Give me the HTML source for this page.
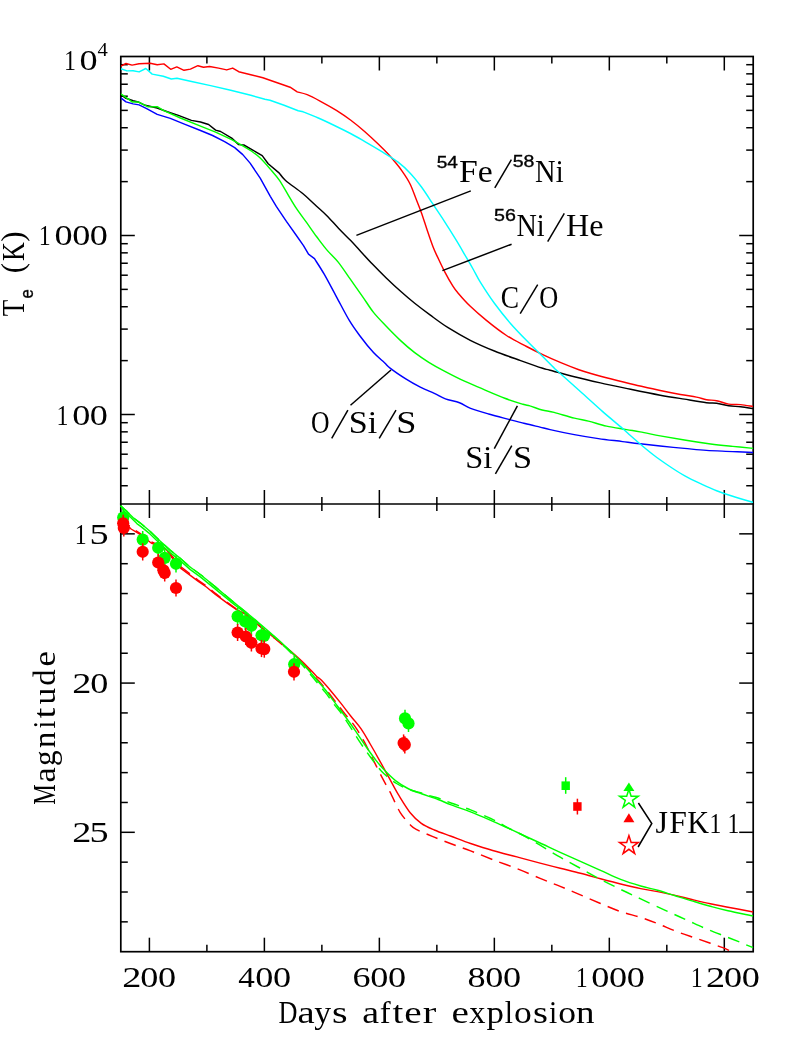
<!DOCTYPE html>
<html><head><meta charset="utf-8"><title>plot</title>
<style>html,body{margin:0;padding:0;background:#fff;width:795px;height:1059px;overflow:hidden}svg{display:block}text{font-kerning:none}</style>
</head><body>
<svg width="795" height="1059" viewBox="0 0 795 1059">
<rect x="0" y="0" width="795" height="1059" fill="#fff"/>
<clipPath id="ct"><rect x="120.8" y="56.5" width="632.4000000000001" height="447.5"/></clipPath>
<clipPath id="cb"><rect x="112.8" y="504.0" width="640.4000000000001" height="447.70000000000005"/></clipPath>
<rect x="120.8" y="56.5" width="632.4000000000001" height="895.2" stroke="#000" stroke-width="1.7" fill="none" stroke-linecap="square"/>
<line x1="120.80" y1="504.00" x2="753.20" y2="504.00" stroke="#000" stroke-width="1.7" fill="none" stroke-linecap="square"/>
<line x1="149.40" y1="56.50" x2="149.40" y2="70.50" stroke="#000" stroke-width="1.5" fill="none"/>
<line x1="149.40" y1="490.00" x2="149.40" y2="518.00" stroke="#000" stroke-width="1.5" fill="none"/>
<line x1="149.40" y1="937.70" x2="149.40" y2="951.70" stroke="#000" stroke-width="1.5" fill="none"/>
<line x1="206.89" y1="56.50" x2="206.89" y2="63.50" stroke="#000" stroke-width="1.5" fill="none"/>
<line x1="206.89" y1="497.00" x2="206.89" y2="511.00" stroke="#000" stroke-width="1.5" fill="none"/>
<line x1="206.89" y1="944.70" x2="206.89" y2="951.70" stroke="#000" stroke-width="1.5" fill="none"/>
<line x1="264.38" y1="56.50" x2="264.38" y2="70.50" stroke="#000" stroke-width="1.5" fill="none"/>
<line x1="264.38" y1="490.00" x2="264.38" y2="518.00" stroke="#000" stroke-width="1.5" fill="none"/>
<line x1="264.38" y1="937.70" x2="264.38" y2="951.70" stroke="#000" stroke-width="1.5" fill="none"/>
<line x1="321.87" y1="56.50" x2="321.87" y2="63.50" stroke="#000" stroke-width="1.5" fill="none"/>
<line x1="321.87" y1="497.00" x2="321.87" y2="511.00" stroke="#000" stroke-width="1.5" fill="none"/>
<line x1="321.87" y1="944.70" x2="321.87" y2="951.70" stroke="#000" stroke-width="1.5" fill="none"/>
<line x1="379.36" y1="56.50" x2="379.36" y2="70.50" stroke="#000" stroke-width="1.5" fill="none"/>
<line x1="379.36" y1="490.00" x2="379.36" y2="518.00" stroke="#000" stroke-width="1.5" fill="none"/>
<line x1="379.36" y1="937.70" x2="379.36" y2="951.70" stroke="#000" stroke-width="1.5" fill="none"/>
<line x1="436.85" y1="56.50" x2="436.85" y2="63.50" stroke="#000" stroke-width="1.5" fill="none"/>
<line x1="436.85" y1="497.00" x2="436.85" y2="511.00" stroke="#000" stroke-width="1.5" fill="none"/>
<line x1="436.85" y1="944.70" x2="436.85" y2="951.70" stroke="#000" stroke-width="1.5" fill="none"/>
<line x1="494.34" y1="56.50" x2="494.34" y2="70.50" stroke="#000" stroke-width="1.5" fill="none"/>
<line x1="494.34" y1="490.00" x2="494.34" y2="518.00" stroke="#000" stroke-width="1.5" fill="none"/>
<line x1="494.34" y1="937.70" x2="494.34" y2="951.70" stroke="#000" stroke-width="1.5" fill="none"/>
<line x1="551.83" y1="56.50" x2="551.83" y2="63.50" stroke="#000" stroke-width="1.5" fill="none"/>
<line x1="551.83" y1="497.00" x2="551.83" y2="511.00" stroke="#000" stroke-width="1.5" fill="none"/>
<line x1="551.83" y1="944.70" x2="551.83" y2="951.70" stroke="#000" stroke-width="1.5" fill="none"/>
<line x1="609.32" y1="56.50" x2="609.32" y2="70.50" stroke="#000" stroke-width="1.5" fill="none"/>
<line x1="609.32" y1="490.00" x2="609.32" y2="518.00" stroke="#000" stroke-width="1.5" fill="none"/>
<line x1="609.32" y1="937.70" x2="609.32" y2="951.70" stroke="#000" stroke-width="1.5" fill="none"/>
<line x1="666.81" y1="56.50" x2="666.81" y2="63.50" stroke="#000" stroke-width="1.5" fill="none"/>
<line x1="666.81" y1="497.00" x2="666.81" y2="511.00" stroke="#000" stroke-width="1.5" fill="none"/>
<line x1="666.81" y1="944.70" x2="666.81" y2="951.70" stroke="#000" stroke-width="1.5" fill="none"/>
<line x1="724.30" y1="56.50" x2="724.30" y2="70.50" stroke="#000" stroke-width="1.5" fill="none"/>
<line x1="724.30" y1="490.00" x2="724.30" y2="518.00" stroke="#000" stroke-width="1.5" fill="none"/>
<line x1="724.30" y1="937.70" x2="724.30" y2="951.70" stroke="#000" stroke-width="1.5" fill="none"/>
<line x1="120.80" y1="485.73" x2="127.80" y2="485.73" stroke="#000" stroke-width="1.5" fill="none"/>
<line x1="746.20" y1="485.73" x2="753.20" y2="485.73" stroke="#000" stroke-width="1.5" fill="none"/>
<line x1="120.80" y1="468.38" x2="127.80" y2="468.38" stroke="#000" stroke-width="1.5" fill="none"/>
<line x1="746.20" y1="468.38" x2="753.20" y2="468.38" stroke="#000" stroke-width="1.5" fill="none"/>
<line x1="120.80" y1="454.21" x2="127.80" y2="454.21" stroke="#000" stroke-width="1.5" fill="none"/>
<line x1="746.20" y1="454.21" x2="753.20" y2="454.21" stroke="#000" stroke-width="1.5" fill="none"/>
<line x1="120.80" y1="442.23" x2="127.80" y2="442.23" stroke="#000" stroke-width="1.5" fill="none"/>
<line x1="746.20" y1="442.23" x2="753.20" y2="442.23" stroke="#000" stroke-width="1.5" fill="none"/>
<line x1="120.80" y1="431.85" x2="127.80" y2="431.85" stroke="#000" stroke-width="1.5" fill="none"/>
<line x1="746.20" y1="431.85" x2="753.20" y2="431.85" stroke="#000" stroke-width="1.5" fill="none"/>
<line x1="120.80" y1="422.69" x2="127.80" y2="422.69" stroke="#000" stroke-width="1.5" fill="none"/>
<line x1="746.20" y1="422.69" x2="753.20" y2="422.69" stroke="#000" stroke-width="1.5" fill="none"/>
<line x1="120.80" y1="414.50" x2="134.80" y2="414.50" stroke="#000" stroke-width="1.5" fill="none"/>
<line x1="739.20" y1="414.50" x2="753.20" y2="414.50" stroke="#000" stroke-width="1.5" fill="none"/>
<line x1="120.80" y1="360.62" x2="127.80" y2="360.62" stroke="#000" stroke-width="1.5" fill="none"/>
<line x1="746.20" y1="360.62" x2="753.20" y2="360.62" stroke="#000" stroke-width="1.5" fill="none"/>
<line x1="120.80" y1="329.10" x2="127.80" y2="329.10" stroke="#000" stroke-width="1.5" fill="none"/>
<line x1="746.20" y1="329.10" x2="753.20" y2="329.10" stroke="#000" stroke-width="1.5" fill="none"/>
<line x1="120.80" y1="306.73" x2="127.80" y2="306.73" stroke="#000" stroke-width="1.5" fill="none"/>
<line x1="746.20" y1="306.73" x2="753.20" y2="306.73" stroke="#000" stroke-width="1.5" fill="none"/>
<line x1="120.80" y1="289.38" x2="127.80" y2="289.38" stroke="#000" stroke-width="1.5" fill="none"/>
<line x1="746.20" y1="289.38" x2="753.20" y2="289.38" stroke="#000" stroke-width="1.5" fill="none"/>
<line x1="120.80" y1="275.21" x2="127.80" y2="275.21" stroke="#000" stroke-width="1.5" fill="none"/>
<line x1="746.20" y1="275.21" x2="753.20" y2="275.21" stroke="#000" stroke-width="1.5" fill="none"/>
<line x1="120.80" y1="263.23" x2="127.80" y2="263.23" stroke="#000" stroke-width="1.5" fill="none"/>
<line x1="746.20" y1="263.23" x2="753.20" y2="263.23" stroke="#000" stroke-width="1.5" fill="none"/>
<line x1="120.80" y1="252.85" x2="127.80" y2="252.85" stroke="#000" stroke-width="1.5" fill="none"/>
<line x1="746.20" y1="252.85" x2="753.20" y2="252.85" stroke="#000" stroke-width="1.5" fill="none"/>
<line x1="120.80" y1="243.69" x2="127.80" y2="243.69" stroke="#000" stroke-width="1.5" fill="none"/>
<line x1="746.20" y1="243.69" x2="753.20" y2="243.69" stroke="#000" stroke-width="1.5" fill="none"/>
<line x1="120.80" y1="235.50" x2="134.80" y2="235.50" stroke="#000" stroke-width="1.5" fill="none"/>
<line x1="739.20" y1="235.50" x2="753.20" y2="235.50" stroke="#000" stroke-width="1.5" fill="none"/>
<line x1="120.80" y1="181.62" x2="127.80" y2="181.62" stroke="#000" stroke-width="1.5" fill="none"/>
<line x1="746.20" y1="181.62" x2="753.20" y2="181.62" stroke="#000" stroke-width="1.5" fill="none"/>
<line x1="120.80" y1="150.10" x2="127.80" y2="150.10" stroke="#000" stroke-width="1.5" fill="none"/>
<line x1="746.20" y1="150.10" x2="753.20" y2="150.10" stroke="#000" stroke-width="1.5" fill="none"/>
<line x1="120.80" y1="127.73" x2="127.80" y2="127.73" stroke="#000" stroke-width="1.5" fill="none"/>
<line x1="746.20" y1="127.73" x2="753.20" y2="127.73" stroke="#000" stroke-width="1.5" fill="none"/>
<line x1="120.80" y1="110.38" x2="127.80" y2="110.38" stroke="#000" stroke-width="1.5" fill="none"/>
<line x1="746.20" y1="110.38" x2="753.20" y2="110.38" stroke="#000" stroke-width="1.5" fill="none"/>
<line x1="120.80" y1="96.21" x2="127.80" y2="96.21" stroke="#000" stroke-width="1.5" fill="none"/>
<line x1="746.20" y1="96.21" x2="753.20" y2="96.21" stroke="#000" stroke-width="1.5" fill="none"/>
<line x1="120.80" y1="84.23" x2="127.80" y2="84.23" stroke="#000" stroke-width="1.5" fill="none"/>
<line x1="746.20" y1="84.23" x2="753.20" y2="84.23" stroke="#000" stroke-width="1.5" fill="none"/>
<line x1="120.80" y1="73.85" x2="127.80" y2="73.85" stroke="#000" stroke-width="1.5" fill="none"/>
<line x1="746.20" y1="73.85" x2="753.20" y2="73.85" stroke="#000" stroke-width="1.5" fill="none"/>
<line x1="120.80" y1="64.69" x2="127.80" y2="64.69" stroke="#000" stroke-width="1.5" fill="none"/>
<line x1="746.20" y1="64.69" x2="753.20" y2="64.69" stroke="#000" stroke-width="1.5" fill="none"/>
<line x1="120.80" y1="533.85" x2="134.80" y2="533.85" stroke="#000" stroke-width="1.5" fill="none"/>
<line x1="739.20" y1="533.85" x2="753.20" y2="533.85" stroke="#000" stroke-width="1.5" fill="none"/>
<line x1="120.80" y1="563.69" x2="127.80" y2="563.69" stroke="#000" stroke-width="1.5" fill="none"/>
<line x1="746.20" y1="563.69" x2="753.20" y2="563.69" stroke="#000" stroke-width="1.5" fill="none"/>
<line x1="120.80" y1="593.54" x2="127.80" y2="593.54" stroke="#000" stroke-width="1.5" fill="none"/>
<line x1="746.20" y1="593.54" x2="753.20" y2="593.54" stroke="#000" stroke-width="1.5" fill="none"/>
<line x1="120.80" y1="623.39" x2="127.80" y2="623.39" stroke="#000" stroke-width="1.5" fill="none"/>
<line x1="746.20" y1="623.39" x2="753.20" y2="623.39" stroke="#000" stroke-width="1.5" fill="none"/>
<line x1="120.80" y1="653.23" x2="127.80" y2="653.23" stroke="#000" stroke-width="1.5" fill="none"/>
<line x1="746.20" y1="653.23" x2="753.20" y2="653.23" stroke="#000" stroke-width="1.5" fill="none"/>
<line x1="120.80" y1="683.08" x2="134.80" y2="683.08" stroke="#000" stroke-width="1.5" fill="none"/>
<line x1="739.20" y1="683.08" x2="753.20" y2="683.08" stroke="#000" stroke-width="1.5" fill="none"/>
<line x1="120.80" y1="712.93" x2="127.80" y2="712.93" stroke="#000" stroke-width="1.5" fill="none"/>
<line x1="746.20" y1="712.93" x2="753.20" y2="712.93" stroke="#000" stroke-width="1.5" fill="none"/>
<line x1="120.80" y1="742.77" x2="127.80" y2="742.77" stroke="#000" stroke-width="1.5" fill="none"/>
<line x1="746.20" y1="742.77" x2="753.20" y2="742.77" stroke="#000" stroke-width="1.5" fill="none"/>
<line x1="120.80" y1="772.62" x2="127.80" y2="772.62" stroke="#000" stroke-width="1.5" fill="none"/>
<line x1="746.20" y1="772.62" x2="753.20" y2="772.62" stroke="#000" stroke-width="1.5" fill="none"/>
<line x1="120.80" y1="802.47" x2="127.80" y2="802.47" stroke="#000" stroke-width="1.5" fill="none"/>
<line x1="746.20" y1="802.47" x2="753.20" y2="802.47" stroke="#000" stroke-width="1.5" fill="none"/>
<line x1="120.80" y1="832.31" x2="134.80" y2="832.31" stroke="#000" stroke-width="1.5" fill="none"/>
<line x1="739.20" y1="832.31" x2="753.20" y2="832.31" stroke="#000" stroke-width="1.5" fill="none"/>
<line x1="120.80" y1="862.16" x2="127.80" y2="862.16" stroke="#000" stroke-width="1.5" fill="none"/>
<line x1="746.20" y1="862.16" x2="753.20" y2="862.16" stroke="#000" stroke-width="1.5" fill="none"/>
<line x1="120.80" y1="892.01" x2="127.80" y2="892.01" stroke="#000" stroke-width="1.5" fill="none"/>
<line x1="746.20" y1="892.01" x2="753.20" y2="892.01" stroke="#000" stroke-width="1.5" fill="none"/>
<line x1="120.80" y1="921.85" x2="127.80" y2="921.85" stroke="#000" stroke-width="1.5" fill="none"/>
<line x1="746.20" y1="921.85" x2="753.20" y2="921.85" stroke="#000" stroke-width="1.5" fill="none"/>
<g clip-path="url(#ct)">
<path d="M120.8,94.7 L126.0,98.3 L133.1,100.7 L139.1,102.3 L145.2,105.3 L157.2,108.0 L167.3,111.8 L178.4,115.4 L191.4,120.4 L200.5,122.0 L208.6,124.5 L215.6,130.1 L220.6,131.5 L231.7,138.1 L238.7,144.6 L243.8,145.0 L252.8,150.2 L262.2,155.6 L268.2,163.7 L279.3,173.1 C280.3,174.3 281.5,176.8 285.3,180.2 C289.1,183.6 297.5,189.3 302.4,193.3 C307.3,197.3 310.5,200.6 314.5,204.3 C318.5,208.0 322.6,211.4 326.6,215.4 C330.6,219.4 334.7,224.3 338.7,228.5 C342.7,232.7 347.2,237.0 350.7,240.6 C354.1,244.2 355.8,246.1 359.4,250.0 C363.0,253.9 367.9,259.4 372.4,264.1 C376.9,268.8 381.8,273.7 386.5,278.2 C391.2,282.7 395.9,287.1 400.6,291.3 C405.3,295.5 409.8,299.4 414.7,303.3 C419.6,307.2 424.4,310.8 430.0,314.9 C435.6,319.0 441.4,323.5 448.1,327.7 C454.8,331.9 462.6,336.4 470.3,340.3 C478.0,344.2 486.0,347.6 494.4,351.0 C502.8,354.4 512.5,357.7 520.6,360.6 C528.7,363.5 537.8,366.7 542.7,368.3 C547.6,369.9 544.8,368.8 550.1,370.2 C555.4,371.6 565.9,374.7 574.3,376.8 C582.7,378.9 591.0,380.8 600.4,382.9 C609.8,385.0 620.6,387.2 630.6,389.3 C640.6,391.4 651.2,393.6 660.2,395.2 C669.2,396.8 676.7,397.9 684.4,399.1 C692.1,400.4 701.1,402.0 706.5,402.7 C711.9,403.4 712.9,402.8 716.6,403.3 C720.3,403.8 724.7,405.2 728.7,405.8 C732.7,406.4 736.6,406.3 740.7,406.8 C744.8,407.3 751.1,408.3 753.2,408.6" stroke="#000" stroke-width="1.45" fill="none" stroke-linejoin="round" stroke-linecap="butt"/>
<path d="M120.8,66.1 L126.0,63.5 L132.1,65.1 L139.1,63.7 L150.2,63.3 L157.2,64.7 L163.9,63.9 L170.7,69.3 L176.8,66.9 L184.0,70.3 L190.4,69.1 L197.9,65.7 L203.5,67.3 L209.6,66.5 L218.6,68.1 L226.7,69.9 L232.7,68.1 L238.7,71.7 L250.8,74.8 L262.9,77.8 L270.0,80.2 L280.1,83.8 L290.1,87.2 L297.2,91.9 C298.9,92.4 303.0,93.0 307.2,94.7 C311.4,96.4 317.4,99.7 322.3,102.3 C327.2,104.9 331.7,107.5 336.4,110.4 C341.1,113.4 345.8,116.5 350.5,120.0 C355.2,123.5 359.9,127.4 364.6,131.5 C369.3,135.6 374.9,140.9 378.7,144.6 C382.5,148.3 385.0,150.8 387.7,153.6 C390.4,156.4 392.4,158.8 394.8,161.7 C397.2,164.6 399.5,167.3 402.1,171.1 C404.7,174.8 407.9,179.5 410.2,184.2 C412.5,188.9 414.3,194.6 416.2,199.3 C418.1,204.0 419.4,207.2 421.3,212.4 C423.2,217.6 425.3,224.6 427.3,230.5 C429.3,236.4 431.5,242.9 433.3,247.6 C435.1,252.3 436.5,254.6 438.4,258.7 C440.3,262.8 442.5,267.5 444.9,272.1 C447.3,276.7 450.7,282.7 452.9,286.2 C455.1,289.7 455.3,289.8 458.2,293.2 C461.1,296.6 465.6,301.8 470.3,306.3 C475.0,310.8 480.4,315.5 486.4,320.4 C492.4,325.3 499.8,331.1 506.5,335.5 C513.2,339.9 520.6,343.3 526.6,346.5 C532.6,349.7 537.0,351.9 542.7,354.6 C548.4,357.3 554.8,360.1 560.8,362.6 C566.8,365.1 574.0,367.9 578.9,369.7 C583.8,371.5 584.7,371.7 590.0,373.2 C595.3,374.7 603.1,376.9 610.5,378.8 C617.9,380.7 626.3,382.8 634.6,384.7 C642.9,386.6 652.6,388.9 660.2,390.5 C667.8,392.1 674.4,393.4 680.4,394.5 C686.4,395.6 692.1,396.2 696.5,397.1 C700.9,398.0 703.1,399.1 706.5,399.7 C709.9,400.3 712.9,400.0 716.6,400.7 C720.3,401.4 724.7,403.5 728.7,404.1 C732.7,404.8 736.6,404.2 740.7,404.6 C744.8,405.0 751.1,406.3 753.2,406.6" stroke="#f00" stroke-width="1.45" fill="none" stroke-linejoin="round" stroke-linecap="butt"/>
<path d="M120.8,93.9 L128.0,98.9 L132.1,101.9 L138.1,101.9 L148.2,106.9 L157.2,106.7 L163.3,110.4 L180.4,118.0 L200.5,126.1 L215.6,132.1 L231.7,139.6 L240.7,144.6 L250.8,150.6 C252.4,151.8 256.9,154.9 260.2,158.0 C263.4,161.1 267.1,165.4 270.3,169.1 C273.5,172.8 276.3,175.8 279.3,180.2 C282.3,184.6 285.5,190.6 288.4,195.3 C291.2,200.0 293.4,203.9 296.4,208.4 C299.4,212.9 303.1,217.7 306.5,222.4 C309.9,227.1 313.1,232.0 316.5,236.5 C319.9,241.0 323.0,245.3 326.6,249.6 C330.2,253.9 334.2,257.2 338.2,262.1 C342.1,267.0 346.3,273.5 350.3,279.2 C354.3,284.9 358.5,290.8 362.4,296.3 C366.3,301.8 369.5,307.4 373.5,312.4 C377.5,317.4 382.0,321.8 386.5,326.5 C391.0,331.2 395.9,336.2 400.6,340.6 C405.3,345.0 410.0,349.0 414.7,352.6 C419.4,356.2 423.9,359.2 428.8,362.3 C433.8,365.4 438.4,368.0 444.4,371.1 C450.3,374.2 457.8,378.1 464.5,381.2 C471.2,384.3 477.9,386.9 484.6,389.8 C491.3,392.7 498.4,395.9 504.8,398.3 C511.2,400.7 518.7,403.0 522.9,404.3 C527.1,405.6 526.8,404.9 530.0,405.9 C533.2,406.8 538.1,408.9 542.1,410.0 C546.1,411.1 548.7,411.0 554.1,412.4 C559.5,413.8 568.6,416.7 574.3,418.1 C580.0,419.6 583.0,419.8 588.4,421.1 C593.8,422.4 600.1,424.7 606.5,426.1 C612.9,427.5 621.0,428.6 626.6,429.6 C632.2,430.6 634.5,430.8 640.1,431.9 C645.7,432.9 652.8,434.5 660.2,435.9 C667.6,437.2 676.0,438.6 684.4,440.0 C692.8,441.4 702.5,442.9 710.6,444.0 C718.7,445.1 725.6,445.7 732.7,446.4 C739.8,447.1 749.8,448.1 753.2,448.4" stroke="#0f0" stroke-width="1.45" fill="none" stroke-linejoin="round" stroke-linecap="butt"/>
<path d="M120.8,97.9 L126.0,101.9 L133.1,103.9 L139.1,104.9 L146.2,108.4 L157.2,114.4 L170.3,118.4 L184.4,124.1 L200.5,130.5 L212.6,135.5 L224.6,141.6 L234.7,147.6 L242.8,154.6 L250.1,163.1 L260.2,178.2 L270.3,196.3 L276.3,206.4 L286.4,221.4 L296.4,235.5 L303.5,245.6 L308.5,254.2 L314.5,258.7 C316.1,261.3 320.6,267.9 324.2,274.2 C327.8,280.5 332.0,288.6 336.2,296.3 C340.4,304.0 345.3,313.7 349.3,320.4 C353.3,327.1 356.4,331.1 360.4,336.5 C364.4,341.9 369.5,348.2 373.5,352.6 C377.5,357.0 381.7,360.1 384.5,362.7 C387.3,365.3 386.5,365.4 390.1,368.1 C393.7,370.9 401.2,376.0 406.2,379.2 C411.2,382.4 415.6,384.8 420.3,387.2 C425.0,389.6 430.1,391.4 434.3,393.3 C438.5,395.2 441.2,397.3 445.4,398.9 C449.6,400.5 455.3,401.1 459.5,402.7 C463.7,404.3 465.7,406.5 470.6,408.4 C475.5,410.3 482.3,412.2 488.7,414.0 C495.1,415.8 502.8,417.8 508.8,419.4 C514.8,421.0 519.7,422.2 524.9,423.5 C530.1,424.8 535.8,426.1 540.0,427.1 C544.2,428.1 544.4,428.4 550.1,429.6 C555.8,430.9 566.2,433.1 574.3,434.6 C582.3,436.1 590.3,437.4 598.4,438.6 C606.5,439.8 615.6,440.7 622.6,441.6 C629.6,442.5 633.8,443.1 640.1,443.8 C646.4,444.5 652.8,445.2 660.2,446.0 C667.6,446.8 676.7,447.7 684.4,448.4 C692.1,449.1 698.5,449.9 706.5,450.4 C714.5,450.9 724.9,451.2 732.7,451.6 C740.5,452.0 749.8,452.4 753.2,452.5" stroke="#00f" stroke-width="1.45" fill="none" stroke-linejoin="round" stroke-linecap="butt"/>
<path d="M120.8,68.7 L127.0,70.9 L133.1,70.7 L139.1,71.9 L145.8,68.5 L152.2,74.1 L163.3,76.2 L171.3,79.0 L177.0,78.2 L190.4,81.2 L210.6,85.6 L230.7,90.2 L250.8,95.3 L264.9,99.3 L270.0,100.3 L284.1,105.3 L298.2,110.8 L303.2,111.8 C305.7,112.8 313.1,115.7 318.3,118.0 C323.5,120.3 329.0,122.9 334.4,125.5 C339.8,128.1 345.1,130.7 350.5,133.5 C355.9,136.3 361.2,139.5 366.6,142.6 C372.0,145.7 377.4,148.9 382.7,152.2 C387.9,155.5 393.5,158.7 398.1,162.2 C402.7,165.7 406.3,169.1 410.2,173.2 C414.1,177.3 417.6,181.8 421.3,186.8 C425.0,191.8 428.5,197.4 432.3,203.2 C436.1,209.0 440.4,215.2 444.4,221.4 C448.4,227.6 452.8,234.6 456.5,240.6 C460.2,246.6 463.6,252.8 466.5,257.7 C469.4,262.6 471.3,265.9 473.6,270.0 C475.9,274.1 476.8,276.6 480.3,282.1 C483.8,287.7 489.4,296.4 494.4,303.3 C499.4,310.2 505.1,317.2 510.5,323.4 C515.9,329.6 521.2,335.0 526.6,340.5 C532.0,346.0 538.0,351.9 542.7,356.6 C547.4,361.3 551.5,365.6 554.8,368.7 C558.0,371.8 557.6,371.1 562.2,375.2 C566.8,379.3 575.6,387.3 582.3,393.3 C589.0,399.3 595.7,405.5 602.4,411.4 C609.1,417.3 618.0,424.5 622.6,428.5 C627.2,432.5 627.2,432.7 630.1,435.3 C633.0,437.9 636.1,440.6 640.1,444.0 C644.1,447.4 649.5,451.9 654.2,455.5 C658.9,459.1 663.3,462.1 668.3,465.5 C673.3,468.9 679.0,472.6 684.4,475.6 C689.8,478.6 695.1,481.1 700.5,483.6 C705.9,486.1 711.2,488.6 716.6,490.7 C722.0,492.8 726.6,494.4 732.7,496.3 C738.8,498.2 749.8,501.4 753.2,502.4" stroke="#0ff" stroke-width="1.45" fill="none" stroke-linejoin="round" stroke-linecap="butt"/>
</g>
<g clip-path="url(#cb)">
<path d="M120.8,519.0 L131.1,529.0 L139.6,534.2 L151.2,543.0 L160.0,546.5 L166.3,549.6 L171.6,557.2 L181.2,568.7 L190.3,575.3 L198.3,581.4 L206.4,587.0 L215.1,594.2 L227.2,603.2 L236.2,609.4 L245.3,613.8 C247.8,615.9 255.4,622.5 260.4,626.6 C265.4,630.8 271.5,635.4 275.5,638.7 C279.5,642.0 281.2,643.5 284.5,646.2 C287.8,648.9 291.3,651.7 295.1,655.1 C298.9,658.5 303.7,662.9 307.2,666.4 C310.7,669.9 313.8,673.6 316.2,675.9 C318.6,678.2 319.0,677.7 321.5,680.3 C324.0,682.9 328.2,687.8 331.3,691.5 C334.4,695.2 337.1,698.5 340.4,702.6 C343.7,706.7 347.4,711.8 350.9,716.2 C354.3,720.6 357.9,724.3 361.1,728.9 C364.3,733.5 367.2,738.9 370.2,744.0 C373.2,749.1 376.2,754.4 379.2,759.8 C382.2,765.2 385.1,770.7 388.3,776.4 C391.5,782.1 394.5,788.2 398.1,794.2 C401.8,800.2 406.3,807.9 410.2,812.7 C414.1,817.6 417.3,820.4 421.3,823.3 C425.3,826.2 429.5,827.9 434.3,830.0 C439.1,832.1 444.3,833.8 450.4,836.0 C456.4,838.2 463.6,841.1 470.6,843.5 C477.7,845.9 485.0,848.3 492.7,850.5 C500.4,852.7 509.0,854.8 516.9,856.9 C524.8,859.0 532.9,861.2 540.1,863.1 C547.3,865.0 553.5,866.6 560.2,868.3 C566.9,870.0 573.7,871.5 580.4,873.3 C587.1,875.0 593.8,877.0 600.5,878.8 C607.2,880.6 613.9,882.4 620.6,884.0 C627.3,885.6 634.5,887.3 640.7,888.6 C646.9,889.9 651.9,890.5 657.6,891.6 C663.4,892.7 669.3,894.0 675.2,895.4 C681.1,896.8 686.9,898.3 692.8,899.7 C698.7,901.1 704.5,902.5 710.4,903.7 C716.3,905.0 720.9,905.8 728.0,907.2 C735.1,908.6 749.0,911.2 753.2,912.0" stroke="#f00" stroke-width="1.45" fill="none" stroke-linejoin="round" stroke-linecap="butt"/>
<path d="M120.8,518.0 L131.1,527.5 L139.6,533.2 L151.2,541.8 L160.0,545.5 L166.3,548.4 L171.6,555.5 L181.2,567.0 L190.3,574.0 L198.3,580.4 L206.4,586.0 L215.1,593.2 L227.2,602.4 L236.2,608.8 L245.3,613.8 C247.8,616.0 255.4,622.6 260.4,626.8 C265.4,631.0 271.5,635.7 275.5,639.0 C279.5,642.3 281.2,643.8 284.5,646.6 C287.8,649.4 291.3,652.2 295.1,655.8 C298.9,659.4 303.7,664.3 307.2,668.0 C310.7,671.7 313.2,674.6 316.2,678.0 C319.2,681.4 322.3,684.8 325.3,688.5 C328.3,692.2 331.3,696.3 334.3,700.2 C337.3,704.1 339.9,707.6 343.4,712.0 C346.9,716.4 351.6,721.6 355.1,726.6 C358.6,731.6 361.2,736.2 364.2,741.7 C367.2,747.2 370.2,753.8 373.2,759.8 C376.2,765.8 379.5,772.5 382.3,777.9 C385.1,783.3 387.1,786.4 390.1,792.1 C393.1,797.8 396.8,806.9 400.1,812.3 C403.5,817.7 407.5,821.9 410.2,824.7 C412.9,827.6 412.5,827.5 416.2,829.4 C419.9,831.3 426.6,834.0 432.3,836.4 C438.0,838.8 444.0,841.1 450.4,843.5 C456.8,845.9 463.6,848.2 470.6,850.9 C477.7,853.6 485.0,856.6 492.7,859.6 C500.4,862.6 509.0,865.5 516.9,868.6 C524.8,871.7 532.9,875.4 540.1,878.4 C547.3,881.4 553.5,883.6 560.2,886.4 C566.9,889.1 573.7,892.0 580.4,894.9 C587.1,897.8 593.8,900.7 600.5,903.5 C607.2,906.3 613.9,909.3 620.6,911.6 C627.3,913.9 634.5,915.4 640.7,917.4 C646.9,919.4 651.9,921.3 657.6,923.6 C663.4,925.9 669.3,928.7 675.2,931.0 C681.1,933.3 686.9,935.2 692.8,937.2 C698.7,939.2 705.4,941.5 710.4,943.3 C715.4,945.0 719.3,946.3 722.8,947.7 C726.3,949.1 730.0,950.9 731.5,951.5" stroke="#f00" stroke-width="1.45" fill="none" stroke-linejoin="round" stroke-linecap="butt" stroke-dasharray="12 7.5"/>
<path d="M120.6,505.7 L127.4,511.9 L133.7,518.2 L140.0,522.8 L150.0,531.2 L160.1,541.1 L170.1,550.1 L180.2,558.2 L190.3,567.2 C192.0,568.4 196.2,571.3 200.3,574.5 C204.4,577.7 210.1,582.5 215.1,586.6 C220.1,590.8 225.2,595.2 230.2,599.4 C235.2,603.5 240.3,607.4 245.3,611.5 C250.3,615.6 255.4,620.0 260.4,624.3 C265.4,628.6 271.5,633.7 275.5,637.2 C279.5,640.7 281.2,642.4 284.5,645.5 C287.8,648.6 291.3,651.9 295.1,655.8 C298.9,659.7 303.7,664.8 307.2,668.7 C310.7,672.6 313.2,675.7 316.2,679.2 C319.2,682.7 322.3,686.0 325.3,689.8 C328.3,693.6 331.3,697.9 334.3,701.9 C337.3,705.9 339.9,709.2 343.4,714.0 C346.9,718.8 351.4,725.0 355.1,730.4 C358.8,735.8 362.2,741.2 365.7,746.2 C369.2,751.2 372.9,756.5 376.2,760.6 C379.5,764.8 382.0,767.7 385.3,771.1 C388.6,774.5 392.0,778.0 395.8,780.9 C399.6,783.8 403.6,786.4 407.9,788.5 C412.2,790.6 416.5,792.0 421.5,793.8 C426.5,795.6 433.3,797.7 438.1,799.5 C442.9,801.3 445.0,802.5 450.4,804.6 C455.8,806.7 463.9,809.3 470.6,811.9 C477.3,814.5 484.0,817.4 490.7,820.3 C497.4,823.2 505.1,826.8 510.8,829.4 C516.5,832.0 520.0,833.7 524.9,836.0 C529.8,838.3 534.2,840.3 540.1,843.0 C546.0,845.7 553.5,849.4 560.2,852.4 C566.9,855.4 573.7,858.3 580.4,861.3 C587.1,864.3 593.8,867.3 600.5,870.3 C607.2,873.3 613.9,876.8 620.6,879.4 C627.3,882.0 634.5,884.2 640.7,886.0 C646.9,887.8 651.9,888.7 657.6,890.3 C663.4,891.9 669.3,894.0 675.2,895.8 C681.1,897.6 686.9,899.4 692.8,901.1 C698.7,902.9 704.5,904.7 710.4,906.3 C716.3,907.9 720.9,909.2 728.0,910.8 C735.1,912.4 749.0,915.1 753.2,916.0" stroke="#0f0" stroke-width="1.45" fill="none" stroke-linejoin="round" stroke-linecap="butt"/>
<polyline points="120.6,505.9 124.3,511.3 129.3,515.9 136.9,523.6 141.0,526.6 150.0,533.9 160.1,543.7 170.1,552.6 180.2,560.6 190.3,569.6 200.3,576.9 215.1,588.9 230.2,601.3 245.3,612.8 260.4,625.0" stroke="#0f0" stroke-width="1.45" fill="none" stroke-linejoin="round" stroke-linecap="butt"/>
<path d="M120.6,505.7 L127.4,511.9 L133.7,518.2 L140.0,522.8 L150.0,531.2 L160.1,541.1 L170.1,550.1 L180.2,558.2 L190.3,567.2 C192.0,568.4 196.2,571.3 200.3,574.5 C204.4,577.7 210.1,582.5 215.1,586.6 C220.1,590.8 225.2,595.2 230.2,599.4 C235.2,603.6 240.3,607.5 245.3,611.8 C250.3,616.1 255.4,620.6 260.4,625.0 C265.4,629.4 271.5,634.4 275.5,638.0 C279.5,641.6 281.2,643.3 284.5,646.5 C287.8,649.7 291.3,653.2 295.1,657.2 C298.9,661.2 303.7,666.6 307.2,670.6 C310.7,674.6 313.2,677.9 316.2,681.5 C319.2,685.1 322.3,688.5 325.3,692.4 C328.3,696.2 331.9,701.4 334.3,704.6 C336.8,707.8 337.5,708.1 340.0,711.5 C342.5,714.9 345.8,720.1 349.1,725.1 C352.4,730.1 356.1,736.4 359.6,741.7 C363.1,747.0 366.7,752.0 370.2,756.8 C373.7,761.6 377.5,766.8 380.8,770.4 C384.1,774.0 387.0,776.4 389.8,778.7 C392.6,781.0 394.4,782.2 397.4,784.0 C400.4,785.8 403.9,787.7 407.9,789.2 C411.9,790.7 418.0,791.9 421.5,793.0 C425.0,794.1 426.2,794.8 429.0,795.6 C431.8,796.4 434.5,796.8 438.1,798.0 C441.7,799.2 445.0,800.7 450.4,802.7 C455.8,804.7 463.9,807.3 470.6,809.9 C477.3,812.5 485.8,816.2 490.7,818.5 C495.6,820.8 496.6,821.6 500.0,823.4 C503.4,825.2 506.7,827.1 510.8,829.2 C515.0,831.4 521.5,834.5 524.9,836.3 C528.3,838.1 528.9,838.7 531.4,840.2 C533.9,841.7 535.3,842.4 540.1,845.2 C544.9,848.0 553.5,853.4 560.2,857.2 C566.9,861.1 573.7,864.6 580.4,868.3 C587.1,872.0 593.8,875.9 600.5,879.4 C607.2,882.9 613.9,886.1 620.6,889.4 C627.3,892.6 633.1,895.3 640.7,898.9 C648.3,902.5 658.9,907.3 666.4,910.8 C673.9,914.2 679.3,916.7 685.8,919.6 C692.3,922.5 699.0,925.8 705.2,928.4 C711.4,931.0 716.9,933.1 722.8,935.4 C728.7,937.7 735.3,940.3 740.4,942.4 C745.5,944.5 751.1,946.8 753.2,947.7" stroke="#0f0" stroke-width="1.45" fill="none" stroke-linejoin="round" stroke-linecap="butt" stroke-dasharray="12 7.5"/>
<line x1="123.20" y1="509.00" x2="123.20" y2="526.20" stroke="#0f0" stroke-width="1.5"/>
<circle cx="123.2" cy="517.6" r="6.1" fill="#0f0"/>
<line x1="142.70" y1="531.00" x2="142.70" y2="548.20" stroke="#0f0" stroke-width="1.5"/>
<circle cx="142.7" cy="539.6" r="6.1" fill="#0f0"/>
<line x1="158.20" y1="539.20" x2="158.20" y2="556.40" stroke="#0f0" stroke-width="1.5"/>
<circle cx="158.2" cy="547.8" r="6.1" fill="#0f0"/>
<line x1="164.70" y1="549.30" x2="164.70" y2="566.50" stroke="#0f0" stroke-width="1.5"/>
<circle cx="164.7" cy="557.9" r="6.1" fill="#0f0"/>
<line x1="176.00" y1="555.20" x2="176.00" y2="572.40" stroke="#0f0" stroke-width="1.5"/>
<circle cx="176" cy="563.8" r="6.1" fill="#0f0"/>
<line x1="237.60" y1="607.80" x2="237.60" y2="625.00" stroke="#0f0" stroke-width="1.5"/>
<circle cx="237.6" cy="616.4" r="6.1" fill="#0f0"/>
<line x1="245.20" y1="612.80" x2="245.20" y2="630.00" stroke="#0f0" stroke-width="1.5"/>
<circle cx="245.2" cy="621.4" r="6.1" fill="#0f0"/>
<line x1="251.40" y1="617.20" x2="251.40" y2="634.40" stroke="#0f0" stroke-width="1.5"/>
<circle cx="251.4" cy="625.8" r="6.1" fill="#0f0"/>
<line x1="261.50" y1="626.70" x2="261.50" y2="643.90" stroke="#0f0" stroke-width="1.5"/>
<circle cx="261.5" cy="635.3" r="6.1" fill="#0f0"/>
<line x1="264.00" y1="627.30" x2="264.00" y2="644.50" stroke="#0f0" stroke-width="1.5"/>
<circle cx="264" cy="635.9" r="6.1" fill="#0f0"/>
<line x1="294.20" y1="655.60" x2="294.20" y2="672.80" stroke="#0f0" stroke-width="1.5"/>
<circle cx="294.2" cy="664.2" r="6.1" fill="#0f0"/>
<line x1="405.00" y1="709.80" x2="405.00" y2="727.00" stroke="#0f0" stroke-width="1.5"/>
<circle cx="405" cy="718.4" r="6.1" fill="#0f0"/>
<line x1="408.50" y1="714.80" x2="408.50" y2="732.00" stroke="#0f0" stroke-width="1.5"/>
<circle cx="408.5" cy="723.4" r="6.1" fill="#0f0"/>
<line x1="123.20" y1="514.70" x2="123.20" y2="531.90" stroke="#f00" stroke-width="1.5"/>
<circle cx="123.2" cy="523.3" r="6.1" fill="#f00"/>
<line x1="123.80" y1="519.30" x2="123.80" y2="536.50" stroke="#f00" stroke-width="1.5"/>
<circle cx="123.8" cy="527.9" r="6.1" fill="#f00"/>
<line x1="142.70" y1="543.20" x2="142.70" y2="560.40" stroke="#f00" stroke-width="1.5"/>
<circle cx="142.7" cy="551.8" r="6.1" fill="#f00"/>
<line x1="158.20" y1="553.90" x2="158.20" y2="571.10" stroke="#f00" stroke-width="1.5"/>
<circle cx="158.2" cy="562.5" r="6.1" fill="#f00"/>
<line x1="163.50" y1="561.80" x2="163.50" y2="579.00" stroke="#f00" stroke-width="1.5"/>
<circle cx="163.5" cy="570.4" r="6.1" fill="#f00"/>
<line x1="164.70" y1="564.40" x2="164.70" y2="581.60" stroke="#f00" stroke-width="1.5"/>
<circle cx="164.7" cy="573" r="6.1" fill="#f00"/>
<line x1="176.00" y1="579.40" x2="176.00" y2="596.60" stroke="#f00" stroke-width="1.5"/>
<circle cx="176" cy="588" r="6.1" fill="#f00"/>
<line x1="237.60" y1="623.90" x2="237.60" y2="641.10" stroke="#f00" stroke-width="1.5"/>
<circle cx="237.6" cy="632.5" r="6.1" fill="#f00"/>
<line x1="245.80" y1="627.90" x2="245.80" y2="645.10" stroke="#f00" stroke-width="1.5"/>
<circle cx="245.8" cy="636.5" r="6.1" fill="#f00"/>
<line x1="251.40" y1="634.20" x2="251.40" y2="651.40" stroke="#f00" stroke-width="1.5"/>
<circle cx="251.4" cy="642.8" r="6.1" fill="#f00"/>
<line x1="261.50" y1="639.90" x2="261.50" y2="657.10" stroke="#f00" stroke-width="1.5"/>
<circle cx="261.5" cy="648.5" r="6.1" fill="#f00"/>
<line x1="264.30" y1="640.50" x2="264.30" y2="657.70" stroke="#f00" stroke-width="1.5"/>
<circle cx="264.3" cy="649.1" r="6.1" fill="#f00"/>
<line x1="294.00" y1="663.20" x2="294.00" y2="680.40" stroke="#f00" stroke-width="1.5"/>
<circle cx="294" cy="671.8" r="6.1" fill="#f00"/>
<line x1="403.60" y1="734.40" x2="403.60" y2="751.60" stroke="#f00" stroke-width="1.5"/>
<circle cx="403.6" cy="743.0" r="6.1" fill="#f00"/>
<line x1="404.80" y1="736.20" x2="404.80" y2="753.40" stroke="#f00" stroke-width="1.5"/>
<circle cx="404.8" cy="744.8" r="6.1" fill="#f00"/>
</g>
<line x1="565.70" y1="777.20" x2="565.70" y2="793.80" stroke="#0f0" stroke-width="1.5"/>
<rect x="561.5" y="781.4" width="8.4" height="8.6" fill="#0f0"/>
<line x1="577.40" y1="798.70" x2="577.40" y2="814.50" stroke="#f00" stroke-width="1.5"/>
<rect x="573.2" y="802.2" width="8.4" height="8.6" fill="#f00"/>
<polygon points="628.9,782.4 634.4,791.0 623.4,791.0" fill="#0f0"/>
<polygon points="628.9,813.2 634.4,822.3 623.4,822.3" fill="#f00"/>
<polygon points="628.90,789.30 631.12,796.14 638.32,796.14 632.50,800.37 634.72,807.21 628.90,802.98 623.08,807.21 625.30,800.37 619.48,796.14 626.68,796.14" fill="none" stroke="#0f0" stroke-width="1.5" stroke-linejoin="miter"/>
<polygon points="628.90,835.60 631.12,842.44 638.32,842.44 632.50,846.67 634.72,853.51 628.90,849.28 623.08,853.51 625.30,846.67 619.48,842.44 626.68,842.44" fill="none" stroke="#f00" stroke-width="1.5" stroke-linejoin="miter"/>
<polyline points="638.4,803.0 651.8,823.5 638.1,847.0" stroke="#000" stroke-width="1.5" fill="none"/>
<line x1="356.40" y1="235.40" x2="470.80" y2="190.90" stroke="#000" stroke-width="1.5"/>
<line x1="442.40" y1="270.60" x2="511.60" y2="244.20" stroke="#000" stroke-width="1.5"/>
<line x1="350.50" y1="405.30" x2="391.00" y2="370.00" stroke="#000" stroke-width="1.5"/>
<line x1="494.30" y1="448.60" x2="517.40" y2="405.80" stroke="#000" stroke-width="1.5"/>
<g fill="#000" style="font-kerning:none;opacity:0.999" stroke="none">
<text transform="translate(63.91,69.80) scale(0.7943,1.0000)" font-family="Liberation Serif" font-size="30.0" >1</text>
<text transform="translate(79.54,69.80) scale(1.2078,1.0000)" font-family="Liberation Serif" font-size="30.0" >0</text>
<text transform="translate(97.59,55.80) scale(1.1220,1.0000)" font-family="Liberation Serif" font-size="18.4" >4</text>
<text transform="translate(38.81,245.40) scale(0.7943,1.0000)" font-family="Liberation Serif" font-size="30.0" >1</text>
<text transform="translate(54.44,245.40) scale(1.2078,1.0000)" font-family="Liberation Serif" font-size="30.0" >0</text>
<text transform="translate(72.14,245.40) scale(1.2078,1.0000)" font-family="Liberation Serif" font-size="30.0" >0</text>
<text transform="translate(89.84,245.40) scale(1.2078,1.0000)" font-family="Liberation Serif" font-size="30.0" >0</text>
<text transform="translate(56.51,424.90) scale(0.7943,1.0000)" font-family="Liberation Serif" font-size="30.0" >1</text>
<text transform="translate(72.14,424.90) scale(1.2078,1.0000)" font-family="Liberation Serif" font-size="30.0" >0</text>
<text transform="translate(89.84,424.90) scale(1.2078,1.0000)" font-family="Liberation Serif" font-size="30.0" >0</text>
<text transform="translate(74.71,544.10) scale(0.7943,1.0000)" font-family="Liberation Serif" font-size="30.0" >1</text>
<text transform="translate(89.50,544.10) scale(1.2754,1.0000)" font-family="Liberation Serif" font-size="30.0" >5</text>
<text transform="translate(72.37,693.10) scale(1.2754,1.0000)" font-family="Liberation Serif" font-size="30.0" >2</text>
<text transform="translate(90.34,693.10) scale(1.2078,1.0000)" font-family="Liberation Serif" font-size="30.0" >0</text>
<text transform="translate(72.37,842.20) scale(1.2754,1.0000)" font-family="Liberation Serif" font-size="30.0" >2</text>
<text transform="translate(89.50,842.20) scale(1.2754,1.0000)" font-family="Liberation Serif" font-size="30.0" >5</text>
<text transform="translate(122.32,987.40) scale(1.2754,1.0000)" font-family="Liberation Serif" font-size="30.0" >2</text>
<text transform="translate(140.29,987.40) scale(1.2078,1.0000)" font-family="Liberation Serif" font-size="30.0" >0</text>
<text transform="translate(157.99,987.40) scale(1.2078,1.0000)" font-family="Liberation Serif" font-size="30.0" >0</text>
<text transform="translate(238.27,987.40) scale(1.1039,1.0000)" font-family="Liberation Serif" font-size="30.0" >4</text>
<text transform="translate(255.27,987.40) scale(1.2078,1.0000)" font-family="Liberation Serif" font-size="30.0" >0</text>
<text transform="translate(272.97,987.40) scale(1.2078,1.0000)" font-family="Liberation Serif" font-size="30.0" >0</text>
<text transform="translate(352.38,987.40) scale(1.2008,1.0000)" font-family="Liberation Serif" font-size="30.0" >6</text>
<text transform="translate(370.25,987.40) scale(1.2078,1.0000)" font-family="Liberation Serif" font-size="30.0" >0</text>
<text transform="translate(387.95,987.40) scale(1.2078,1.0000)" font-family="Liberation Serif" font-size="30.0" >0</text>
<text transform="translate(467.53,987.40) scale(1.2078,1.0000)" font-family="Liberation Serif" font-size="30.0" >8</text>
<text transform="translate(485.23,987.40) scale(1.2078,1.0000)" font-family="Liberation Serif" font-size="30.0" >0</text>
<text transform="translate(502.93,987.40) scale(1.2078,1.0000)" font-family="Liberation Serif" font-size="30.0" >0</text>
<text transform="translate(575.73,987.40) scale(0.7943,1.0000)" font-family="Liberation Serif" font-size="30.0" >1</text>
<text transform="translate(591.36,987.40) scale(1.2078,1.0000)" font-family="Liberation Serif" font-size="30.0" >0</text>
<text transform="translate(609.06,987.40) scale(1.2078,1.0000)" font-family="Liberation Serif" font-size="30.0" >0</text>
<text transform="translate(626.76,987.40) scale(1.2078,1.0000)" font-family="Liberation Serif" font-size="30.0" >0</text>
<text transform="translate(690.71,987.40) scale(0.7943,1.0000)" font-family="Liberation Serif" font-size="30.0" >1</text>
<text transform="translate(706.07,987.40) scale(1.2754,1.0000)" font-family="Liberation Serif" font-size="30.0" >2</text>
<text transform="translate(724.04,987.40) scale(1.2078,1.0000)" font-family="Liberation Serif" font-size="30.0" >0</text>
<text transform="translate(741.74,987.40) scale(1.2078,1.0000)" font-family="Liberation Serif" font-size="30.0" >0</text>
<text transform="translate(278.38,1022.80) scale(0.8363,1.0000)" font-family="Liberation Serif" font-size="31.4" >D</text>
<text transform="translate(297.54,1022.80) scale(1.2336,1.0000)" font-family="Liberation Serif" font-size="31.4" >a</text>
<text transform="translate(314.28,1022.80) scale(1.0769,1.0000)" font-family="Liberation Serif" font-size="31.4" >y</text>
<text transform="translate(332.00,1022.80) scale(1.2739,1.0000)" font-family="Liberation Serif" font-size="31.4" >s</text>
<text transform="translate(362.17,1022.80) scale(1.2094,1.0000)" font-family="Liberation Serif" font-size="31.4" >a</text>
<text transform="translate(379.82,1022.80) scale(1.0423,1.0000)" font-family="Liberation Serif" font-size="31.4" >f</text>
<text transform="translate(392.51,1022.80) scale(1.2375,1.0000)" font-family="Liberation Serif" font-size="31.4" >t</text>
<text transform="translate(404.33,1022.80) scale(1.2481,1.0000)" font-family="Liberation Serif" font-size="31.4" >e</text>
<text transform="translate(422.69,1022.80) scale(1.2948,1.0000)" font-family="Liberation Serif" font-size="31.4" >r</text>
<text transform="translate(451.43,1022.80) scale(1.2481,1.0000)" font-family="Liberation Serif" font-size="31.4" >e</text>
<text transform="translate(469.36,1022.80) scale(1.0350,1.0000)" font-family="Liberation Serif" font-size="31.4" >x</text>
<text transform="translate(486.38,1022.80) scale(1.1093,1.0000)" font-family="Liberation Serif" font-size="31.4" >p</text>
<text transform="translate(504.81,1022.80) scale(0.9387,1.0000)" font-family="Liberation Serif" font-size="31.4" >l</text>
<text transform="translate(514.07,1022.80) scale(1.1315,1.0000)" font-family="Liberation Serif" font-size="31.4" >o</text>
<text transform="translate(533.06,1022.80) scale(1.2229,1.0000)" font-family="Liberation Serif" font-size="31.4" >s</text>
<text transform="translate(549.01,1022.80) scale(0.9421,1.0000)" font-family="Liberation Serif" font-size="31.4" >i</text>
<text transform="translate(558.37,1022.80) scale(1.1315,1.0000)" font-family="Liberation Serif" font-size="31.4" >o</text>
<text transform="translate(575.97,1022.80) scale(1.1775,1.0000)" font-family="Liberation Serif" font-size="31.4" >n</text>
<text transform="translate(54.90,804.83) rotate(-90) scale(0.7345,1)" font-family="Liberation Serif" font-size="31.4" >M</text>
<text transform="translate(54.90,782.41) rotate(-90) scale(1.0965,1)" font-family="Liberation Serif" font-size="31.4" >a</text>
<text transform="translate(54.90,765.92) rotate(-90) scale(0.9900,1)" font-family="Liberation Serif" font-size="31.4" >g</text>
<text transform="translate(54.90,747.93) rotate(-90) scale(1.0329,1)" font-family="Liberation Serif" font-size="31.4" >n</text>
<text transform="translate(54.90,728.57) rotate(-90) scale(0.9023,1)" font-family="Liberation Serif" font-size="31.4" >i</text>
<text transform="translate(54.90,718.49) rotate(-90) scale(1.2375,1)" font-family="Liberation Serif" font-size="31.4" >t</text>
<text transform="translate(54.90,704.52) rotate(-90) scale(1.0638,1)" font-family="Liberation Serif" font-size="31.4" >u</text>
<text transform="translate(54.90,685.64) rotate(-90) scale(1.0416,1)" font-family="Liberation Serif" font-size="31.4" >d</text>
<text transform="translate(54.90,666.38) rotate(-90) scale(1.1017,1)" font-family="Liberation Serif" font-size="31.4" >e</text>
<text transform="translate(23.90,316.27) rotate(-90) scale(0.8603,1)" font-family="Liberation Serif" font-size="31.4" >T</text>
<text transform="translate(33.10,298.41) rotate(-90) scale(0.9496,1)" font-family="Liberation Sans" font-size="17.7" stroke="#000" stroke-width="0.35">e</text>
<text transform="translate(23.30,273.32) rotate(-90) scale(0.9894,1)" font-family="Liberation Serif" font-size="31.4" >(</text>
<text transform="translate(23.90,261.01) rotate(-90) scale(0.8276,1)" font-family="Liberation Serif" font-size="31.4" >K</text>
<text transform="translate(23.30,241.71) rotate(-90) scale(0.9894,1)" font-family="Liberation Serif" font-size="31.4" >)</text>
<text transform="translate(436.64,167.80) scale(1.1783,1.0000)" font-family="Liberation Sans" font-size="16.2" stroke="#000" stroke-width="0.35">54</text>
<text transform="translate(459.07,182.30) scale(1.0735,1.0000)" font-family="Liberation Serif" font-size="31.4" >Fe</text>
<text transform="translate(512.72,167.20) scale(1.2075,1.0000)" font-family="Liberation Sans" font-size="16.2" stroke="#000" stroke-width="0.35">58</text>
<text transform="translate(535.12,182.30) scale(0.9071,1.0000)" font-family="Liberation Serif" font-size="31.4" >Ni</text>
<text transform="translate(494.01,221.00) scale(1.2135,1.0000)" font-family="Liberation Sans" font-size="16.2" stroke="#000" stroke-width="0.35">56</text>
<text transform="translate(516.43,236.30) scale(0.8971,1.0000)" font-family="Liberation Serif" font-size="31.4" >Ni</text>
<text transform="translate(566.12,236.30) scale(1.0231,1.0000)" font-family="Liberation Serif" font-size="31.4" >He</text>
<text transform="translate(500.70,307.70) scale(0.8734,1.0000)" font-family="Liberation Serif" font-size="31.4" >C</text>
<text transform="translate(539.25,307.70) scale(0.8377,1.0000)" font-family="Liberation Serif" font-size="31.4" >O</text>
<text transform="translate(310.97,433.00) scale(0.8179,1.0000)" font-family="Liberation Serif" font-size="31.4" >O</text>
<text transform="translate(348.80,433.00) scale(1.0864,1.0000)" font-family="Liberation Serif" font-size="31.4" >Si</text>
<text transform="translate(396.15,433.00) scale(1.1547,1.0000)" font-family="Liberation Serif" font-size="31.4" >S</text>
<text transform="translate(465.31,468.20) scale(1.0310,1.0000)" font-family="Liberation Serif" font-size="31.4" >Si</text>
<text transform="translate(512.88,468.20) scale(1.0951,1.0000)" font-family="Liberation Serif" font-size="31.4" >S</text>
<text transform="translate(655.56,832.70) scale(1.0173,1.0000)" font-family="Liberation Serif" font-size="31.4" >J</text>
<text transform="translate(669.23,832.70) scale(1.0088,1.0000)" font-family="Liberation Serif" font-size="31.4" >F</text>
<text transform="translate(687.27,832.70) scale(0.9624,1.0000)" font-family="Liberation Serif" font-size="31.4" >K</text>
<text transform="translate(709.54,832.70) scale(0.7849,1.0000)" font-family="Liberation Serif" font-size="30.0" >1</text>
<text transform="translate(727.54,832.70) scale(0.7849,1.0000)" font-family="Liberation Serif" font-size="30.0" >1</text>
</g>
<line x1="494.80" y1="187.90" x2="511.40" y2="159.60" stroke="#000" stroke-width="1.5"/>
<line x1="547.70" y1="241.60" x2="564.30" y2="213.40" stroke="#000" stroke-width="1.5"/>
<line x1="520.20" y1="313.70" x2="537.70" y2="284.60" stroke="#000" stroke-width="1.5"/>
<line x1="331.70" y1="438.40" x2="347.90" y2="410.20" stroke="#000" stroke-width="1.5"/>
<line x1="379.20" y1="438.40" x2="396.00" y2="410.20" stroke="#000" stroke-width="1.5"/>
<line x1="495.40" y1="473.80" x2="511.80" y2="445.60" stroke="#000" stroke-width="1.5"/>
</svg>
</body></html>
